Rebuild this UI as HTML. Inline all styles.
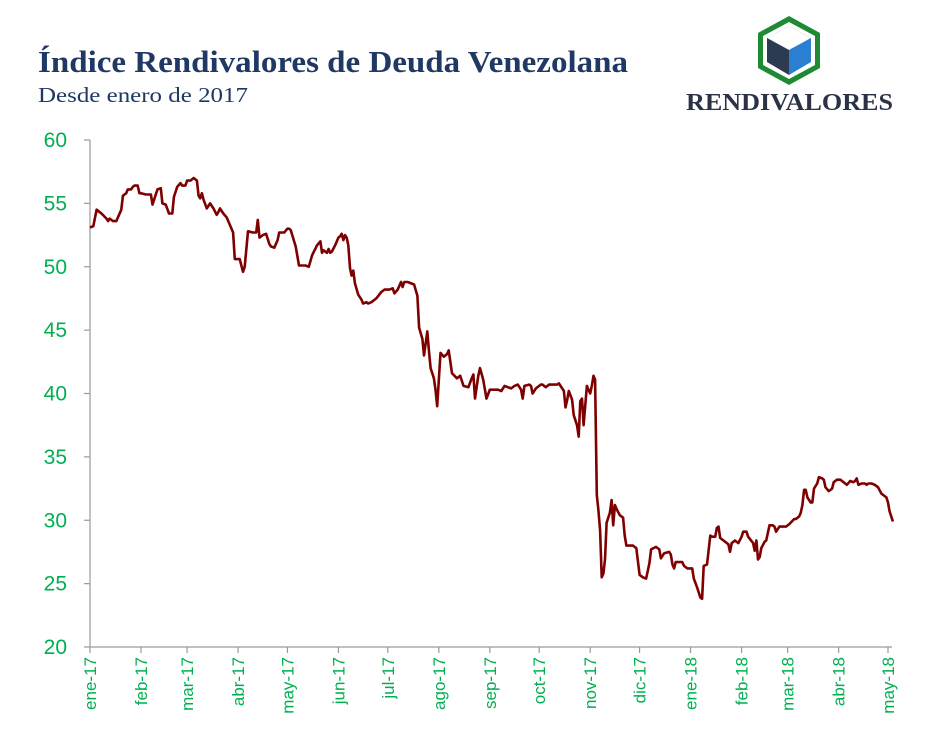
<!DOCTYPE html>
<html><head><meta charset="utf-8"><style>
body{margin:0;background:#fff;}
svg{display:block;}
</style></head><body>
<svg id="chart" width="928" height="748">
<text x="38" y="72" font-family="Liberation Serif, serif" font-weight="bold" font-size="31" fill="#1F3864" textLength="590" lengthAdjust="spacingAndGlyphs">Índice Rendivalores de Deuda Venezolana</text>
<text x="38" y="102" font-family="Liberation Serif, serif" font-size="21" fill="#1F3864" textLength="210" lengthAdjust="spacingAndGlyphs">Desde enero de 2017</text>
<g>
<polygon points="789,16 820,33 820,68 789,85 758,68 758,33" fill="#1e8a34"/>
<polygon points="789,22 815,36 815,65 789,79 763,65 763,36" fill="#fff"/>
<polygon points="789,26 811,38 789,50 767,38" fill="#fff" stroke="#ddd" stroke-width="0.5"/>
<polygon points="767,38 789,50 789,75 767,62" fill="#2c3a52"/>
<polygon points="811,38 789,50 789,75 811,62" fill="#2a7fd0"/>
<text x="686" y="110" font-family="Liberation Serif, serif" font-weight="bold" font-size="24" fill="#2a3346" textLength="207" lengthAdjust="spacingAndGlyphs">RENDIVALORES</text>
</g>
<g id="axes"></g>
<g id="plot"></g>
</svg>
<script>
const yTicks=[20,25,30,35,40,45,50,55,60];
const monthLabels=["ene-17","feb-17","mar-17","abr-17","may-17","jun-17","jul-17","ago-17","sep-17","oct-17","nov-17","dic-17","ene-18","feb-18","mar-18","abr-18","may-18"];
const monthDays=[0,31,59,90,120,151,181,212,243,273,304,334,365,396,424,455,485];
const days=[0,2,4,7,10,11,12,14,16,19,20,22,23,25,26,27,29,30,31,34,37,38,40,41,43,44,46,48,50,51,53,55,56,58,59,61,63,65,66,67,68,69,71,73,75,77,78,79,81,83,87,88,91,93,94,96,99,101,102,103,105,107,109,110,112,114,115,118,120,121,122,125,127,131,133,135,138,140,141,142,144,145,146,147,149,151,152,153,154,155,156,157,158,159,160,161,163,165,166,168,169,171,174,177,179,182,184,185,187,189,190,191,193,197,199,200,202,203,205,206,207,209,210,211,213,215,217,218,220,223,225,227,230,232,233,234,236,237,239,241,243,245,248,250,252,254,256,258,260,262,263,264,267,268,269,271,274,275,277,279,282,284,285,288,289,290,291,293,294,296,297,298,299,300,302,303,304,305,306,307,308,309,310,311,312,313,314,316,317,318,319,320,322,324,325,326,327,330,332,334,336,338,340,341,344,346,347,348,349,352,353,354,355,356,358,360,361,363,366,367,369,371,372,373,375,377,378,380,381,382,383,385,388,389,390,392,394,396,397,399,400,403,404,405,406,407,408,410,411,413,415,416,417,419,421,423,425,428,429,431,432,433,434,435,436,438,439,440,441,442,443,445,446,447,449,451,452,454,456,458,459,460,462,464,465,466,467,469,471,472,473,474,475,477,479,481,484,485,486,488];
const values=[53.1,53.2,54.5,54.2,53.8,53.6,53.8,53.6,53.6,54.5,55.6,55.8,56.1,56.1,56.3,56.4,56.4,55.8,55.8,55.7,55.7,54.9,55.7,56.1,56.2,55.0,54.9,54.2,54.2,55.5,56.3,56.6,56.4,56.4,56.8,56.8,57.0,56.8,55.6,55.4,55.8,55.3,54.6,55.0,54.6,54.1,54.3,54.6,54.2,53.9,52.7,50.6,50.6,49.6,50.0,52.8,52.7,52.7,53.7,52.3,52.5,52.6,51.8,51.6,51.5,52.1,52.7,52.7,53.0,53.0,52.9,51.6,50.1,50.1,50.0,50.9,51.7,52.0,51.1,51.3,51.1,51.4,51.1,51.2,51.7,52.3,52.4,52.6,52.1,52.5,52.3,51.7,49.9,49.3,49.7,48.7,47.8,47.4,47.1,47.2,47.1,47.2,47.5,48.0,48.2,48.2,48.3,47.9,48.2,48.8,48.4,48.8,48.8,48.6,47.7,45.2,44.3,43.0,44.9,43.4,42.0,41.2,40.3,39.0,43.2,42.9,43.1,43.4,41.6,41.2,41.4,40.6,40.5,41.2,41.5,39.6,41.4,42.0,41.1,39.6,40.3,40.3,40.3,40.2,40.6,40.5,40.4,40.6,40.7,40.3,39.6,40.6,40.7,40.6,40.0,40.4,40.7,40.7,40.5,40.7,40.7,40.7,40.8,40.2,38.9,39.5,40.2,39.5,38.3,37.5,36.6,39.4,39.6,37.5,40.6,40.3,40.0,40.6,41.4,41.1,32.0,30.8,29.2,25.5,25.8,26.9,29.8,30.6,31.6,29.6,31.2,30.9,30.4,30.2,28.8,28.0,28.0,28.0,27.8,25.7,25.5,25.4,26.6,27.7,27.9,27.7,27.0,27.2,27.4,27.5,27.3,26.5,26.2,26.7,26.7,26.7,26.4,26.2,26.2,25.4,24.7,23.9,23.8,26.4,26.5,28.8,28.7,28.7,29.4,29.5,28.6,28.4,28.1,27.5,28.2,28.4,28.2,28.7,29.1,29.1,28.7,28.2,27.6,28.4,26.9,27.1,27.8,28.3,28.4,29.6,29.6,29.5,29.1,29.5,29.5,29.5,29.7,30.1,30.1,30.3,30.6,31.2,32.4,32.4,31.8,31.4,31.4,32.5,32.7,32.9,33.4,33.3,33.2,32.6,32.3,32.5,33.0,33.2,33.2,33.0,32.9,32.8,33.1,33.0,33.1,33.3,32.8,32.9,32.9,32.8,32.9,32.9,32.9,32.8,32.6,32.1,31.8,31.4,30.7,29.9,29.6];

const NS="http://www.w3.org/2000/svg";
const X0=90,X1=888,Y0=647,Y1=140,DMAX=485,VMIN=20,VMAX=60;
function xS(d){return X0+(d/DMAX)*(X1-X0);}
function yS(v){return Y0-(v-VMIN)/(VMAX-VMIN)*(Y0-Y1);}
function mk(tag,attrs,parent){const e=document.createElementNS(NS,tag);for(const k in attrs)e.setAttribute(k,attrs[k]);parent.appendChild(e);return e;}
const axes=document.getElementById('axes'),plot=document.getElementById('plot');
const ya=mk('line',{x1:X0,y1:Y1,x2:X0,y2:Y0,stroke:'#9a9a9a','stroke-width':1.2},axes);


const xa=mk('line',{x1:X0,y1:Y0,x2:892,y2:Y0,stroke:'#9a9a9a','stroke-width':1.2},axes);


yTicks.forEach(v=>{
  const y=yS(v);
  mk('line',{x1:X0-6,y1:y,x2:X0,y2:y,stroke:'#9a9a9a','stroke-width':1.2},axes);
  const t=mk('text',{x:67,y:y+7,'text-anchor':'end','font-family':'Liberation Sans, sans-serif','font-size':21,fill:'#00B050'},axes);
  t.textContent=v;
  
  
});
monthDays.forEach((d,i)=>{
  const x=xS(d);
  mk('line',{x1:x,y1:Y0,x2:x,y2:Y0+6,stroke:'#9a9a9a','stroke-width':1.2},axes);
  const t=mk('text',{x:0,y:0,'text-anchor':'end','font-family':'Liberation Sans, sans-serif','font-size':17,fill:'#00B050',transform:`translate(${x+6},${Y0+10}) rotate(-90)`},axes);
  t.textContent=monthLabels[i];
  
  
});
const pts=days.map((d,i)=>xS(d).toFixed(1)+','+yS(values[i]).toFixed(1)).join(' ');
const line=mk('polyline',{points:pts,fill:'none',stroke:'#7f0000','stroke-width':2.6,'stroke-linejoin':'round'},plot);


</script>
</body></html>
